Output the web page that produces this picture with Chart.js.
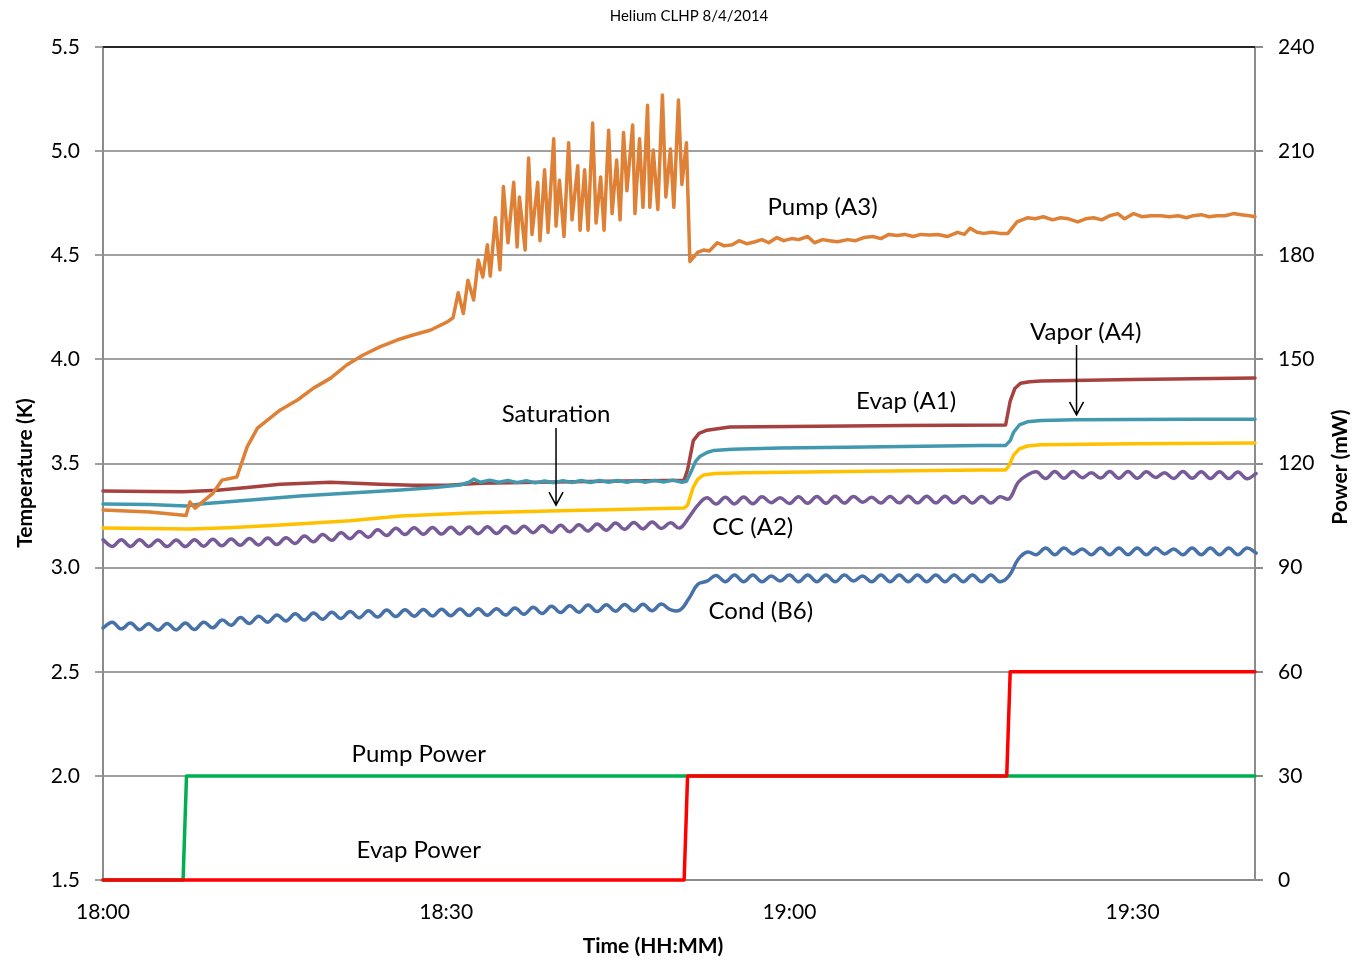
<!DOCTYPE html>
<html>
<head>
<meta charset="utf-8">
<script src="https://cdn.jsdelivr.net/npm/chart.js@4.4.1/dist/chart.umd.min.js"></script>
<style>
  html, body { margin: 0; padding: 0; background: #fff; }
</style>
</head>
<body>
<canvas id="clhp" width="1355" height="960"></canvas>
<script>
// time is minutes after 18:00
const xTicks = [0, 30, 60, 90];
const X_MAX = 100.7;

// Pump (A3), temperature K
const pumpTime = [0, 4.1, 7.26, 7.6, 8.05, 9.62, 10.4, 11.7, 12.6, 13.5, 15.5, 17.0, 18.4, 19.9, 21.3, 22.7, 24.2, 25.7, 27.1, 28.6, 30.1, 30.6,
  31.05, 31.5, 31.9, 32.4, 32.8, 33.2, 33.6, 33.85, 34.3, 34.7, 35.0, 35.4, 35.9, 36.2, 36.4, 36.9, 37.2, 37.5, 38.0, 38.2, 38.6, 38.9,
  39.4, 39.6, 39.9, 40.3, 40.7, 41.0, 41.5, 41.7, 42.1, 42.4, 42.8, 43.1, 43.5, 43.8, 44.2, 44.5, 44.9, 45.2, 45.5, 45.8, 46.3, 46.5,
  46.9, 47.2, 47.6, 47.8, 48.1, 48.5, 48.9, 49.2, 49.6, 49.9, 50.3, 50.6, 51.0, 51.3, 52.0, 52.5, 53.0, 53.7, 54.3, 55.0, 55.6, 56.3,
  57.0, 57.6, 58.2, 58.9, 59.5, 60.2, 60.8, 61.6, 62.2, 62.9, 63.5, 64.2, 65.1, 65.8, 66.5, 67.3, 68.0, 68.7, 69.4, 70.1, 70.8, 71.5,
  72.3, 73.0, 73.8, 74.7, 75.3, 75.8, 76.4, 77.0, 77.7, 78.4, 79.1, 79.9, 80.8, 81.5, 82.2, 83.0, 83.7, 84.4, 85.2, 85.9, 86.6, 87.3,
  88.0, 88.7, 89.3, 90.1, 90.8, 91.6, 92.5, 93.2, 94.0, 94.7, 95.3, 96.0, 96.7, 97.4, 98.1, 98.8, 99.5, 100.2, 100.7];
const pumpTemp = [3.277, 3.267, 3.25, 3.315, 3.286, 3.358, 3.42, 3.435, 3.58, 3.67, 3.757, 3.805, 3.862, 3.91, 3.973, 4.02, 4.06, 4.093, 4.117, 4.14, 4.18, 4.20,
  4.32, 4.22, 4.38, 4.285, 4.477, 4.395, 4.55, 4.40, 4.68, 4.43, 4.83, 4.56, 4.85, 4.54, 4.78, 4.525, 4.967, 4.60, 4.85, 4.57, 4.91, 4.61,
  5.06, 4.64, 4.86, 4.59, 5.04, 4.67, 4.93, 4.62, 4.91, 4.62, 5.135, 4.655, 4.876, 4.62, 5.10, 4.70, 4.957, 4.67, 5.09, 4.81, 5.125, 4.70,
  5.06, 4.73, 5.22, 4.73, 5.005, 4.72, 5.27, 4.78, 5.01, 4.73, 5.245, 4.84, 5.04, 4.47, 4.515, 4.525, 4.52, 4.56, 4.545, 4.55, 4.57, 4.555,
  4.565, 4.575, 4.56, 4.585, 4.57, 4.58, 4.575, 4.59, 4.56, 4.575, 4.57, 4.565, 4.575, 4.57, 4.585, 4.59, 4.58, 4.60, 4.595, 4.60, 4.59, 4.60,
  4.597, 4.60, 4.59, 4.61, 4.60, 4.63, 4.61, 4.605, 4.61, 4.605, 4.605, 4.66, 4.68, 4.675, 4.685, 4.67, 4.68, 4.675, 4.66, 4.675, 4.68, 4.67,
  4.69, 4.70, 4.675, 4.70, 4.685, 4.69, 4.69, 4.685, 4.69, 4.68, 4.69, 4.695, 4.685, 4.69, 4.69, 4.70, 4.695, 4.69, 4.685];

// Evap (A1)
const evapTime = [0, 4, 7, 10, 12.6, 15.5, 19.9, 24.2, 27.1, 30.1, 33, 38, 44, 50.8, 51.1, 51.6, 52.1, 52.8, 54.8, 60, 70, 78.9, 79.3, 79.7, 80.2, 81, 82, 90, 100.7];
const evapTemp = [3.368, 3.366, 3.364, 3.372, 3.385, 3.40, 3.41, 3.40, 3.396, 3.396, 3.405, 3.41, 3.415, 3.42, 3.47, 3.61, 3.645, 3.66, 3.675, 3.678, 3.682, 3.685, 3.80, 3.86, 3.885, 3.893, 3.896, 3.903, 3.91];

// Vapor (A4)
const vaporTime = [0, 4, 7.3, 8.5, 12.9, 17.2, 21.6, 26, 29, 31.2, 32.0, 32.4, 33.0, 33.8, 34.6, 35.4, 36.2, 37.0, 37.8, 38.6, 39.4, 40.2, 41.0,
  41.8, 42.6, 43.4, 44.2, 45.0, 45.8, 46.6, 47.4, 48.2, 49.0, 49.8, 50.6, 51.0, 51.4, 51.8, 52.2, 52.8, 53.4, 55, 59.2, 65, 70, 76.7, 78.9,
  79.3, 79.6, 80.1, 80.8, 82, 85, 90, 95, 100.7];
const vaporTemp = [3.306, 3.303, 3.296, 3.306, 3.325, 3.344, 3.358, 3.373, 3.385, 3.397, 3.41, 3.425, 3.41, 3.42, 3.41, 3.418, 3.408, 3.417, 3.407, 3.416, 3.408, 3.417, 3.409,
  3.418, 3.409, 3.418, 3.41, 3.418, 3.41, 3.419, 3.41, 3.419, 3.411, 3.42, 3.41, 3.415, 3.46, 3.51, 3.535, 3.553, 3.563, 3.568, 3.574, 3.578, 3.582, 3.586, 3.587,
  3.61, 3.65, 3.685, 3.70, 3.706, 3.71, 3.711, 3.712, 3.713];

// Saturation
const satTime = [0, 4, 7.6, 11, 15.5, 21.6, 26, 32, 39, 45, 50.8, 51.1, 51.6, 52.0, 52.5, 53.5, 56, 65, 76.7, 78.9, 79.2, 79.6, 80.1, 80.8, 82, 90, 100.7];
const satTemp = [3.19, 3.188, 3.185, 3.192, 3.205, 3.225, 3.248, 3.262, 3.272, 3.279, 3.286, 3.30, 3.387, 3.425, 3.445, 3.452, 3.456, 3.462, 3.469, 3.469, 3.49, 3.54, 3.57, 3.584, 3.59, 3.595, 3.598];

// CC (A2) and Cond (B6) are logged every 0.8 min
const waveStep = 0.8;
const ccTemp = [
  3.134, 3.102, 3.134, 3.102, 3.134, 3.102, 3.133, 3.101, 3.133, 3.101,
  3.134, 3.103, 3.136, 3.105, 3.138, 3.107, 3.140, 3.109, 3.142, 3.111,
  3.144, 3.116, 3.152, 3.124, 3.159, 3.131, 3.167, 3.139, 3.174, 3.146,
  3.182, 3.154, 3.189, 3.159, 3.192, 3.160, 3.193, 3.161, 3.194, 3.162,
  3.195, 3.163, 3.196, 3.164, 3.197, 3.166, 3.199, 3.168, 3.201, 3.170,
  3.203, 3.172, 3.206, 3.176, 3.210, 3.180, 3.214, 3.184, 3.217, 3.186,
  3.219, 3.188, 3.215, 3.190, 3.240, 3.300, 3.335, 3.305, 3.338, 3.306,
  3.339, 3.307, 3.340, 3.312, 3.336, 3.308, 3.340, 3.309, 3.341, 3.309,
  3.343, 3.310, 3.342, 3.314, 3.338, 3.310, 3.342, 3.311, 3.343, 3.311,
  3.343, 3.311, 3.343, 3.311, 3.342, 3.310, 3.342, 3.310, 3.340, 3.330,
  3.410, 3.445, 3.460, 3.428, 3.461, 3.429, 3.461, 3.432, 3.456, 3.430,
  3.461, 3.429, 3.461, 3.429, 3.460, 3.433, 3.455, 3.428, 3.461, 3.429,
  3.460, 3.428, 3.460, 3.428, 3.459, 3.427, 3.452];
const condTemp = [
  2.710, 2.738, 2.706, 2.734, 2.702, 2.731, 2.700, 2.732, 2.701, 2.734,
  2.703, 2.738, 2.711, 2.749, 2.723, 2.760, 2.732, 2.767, 2.738, 2.773,
  2.744, 2.778, 2.748, 2.782, 2.752, 2.786, 2.756, 2.789, 2.759, 2.793,
  2.763, 2.796, 2.765, 2.798, 2.767, 2.799, 2.768, 2.800, 2.769, 2.801,
  2.770, 2.802, 2.771, 2.803, 2.772, 2.806, 2.776, 2.810, 2.780, 2.814,
  2.784, 2.817, 2.786, 2.820, 2.789, 2.822, 2.791, 2.823, 2.792, 2.824,
  2.793, 2.825, 2.798, 2.795, 2.850, 2.920, 2.935, 2.962, 2.932, 2.964,
  2.932, 2.964, 2.932, 2.960, 2.936, 2.964, 2.932, 2.964, 2.932, 2.964,
  2.932, 2.964, 2.936, 2.960, 2.932, 2.964, 2.932, 2.964, 2.932, 2.964,
  2.932, 2.964, 2.932, 2.964, 2.932, 2.964, 2.932, 2.964, 2.932, 2.960,
  3.040, 3.075, 3.062, 3.094, 3.062, 3.094, 3.066, 3.090, 3.062, 3.094,
  3.062, 3.094, 3.062, 3.094, 3.062, 3.094, 3.066, 3.090, 3.062, 3.094,
  3.062, 3.094, 3.062, 3.094, 3.062, 3.094, 3.070];

// heater powers, mW (right axis)
const pumpPowerTime = [0, 7.0, 7.3, X_MAX];
const pumpPower = [0, 0, 30, 30];
const evapPowerTime = [0, 50.8, 51.1, 79.0, 79.3, X_MAX];
const evapPower = [0, 0, 30, 30, 60, 60];

const FONT = "Lato, 'Open Sans', sans-serif";

const notes = [
  { text: "Pump (A3)", t: 62.9, v: 4.732 },
  { text: "Vapor (A4)", t: 85.9, v: 4.131 },
  { text: "Evap (A1)", t: 70.2, v: 3.800 },
  { text: "Saturation", t: 39.6, v: 3.738 },
  { text: "CC (A2)", t: 56.8, v: 3.195 },
  { text: "Cond (B6)", t: 57.5, v: 2.792 },
  { text: "Pump Power", t: 27.6, v: 2.105 },
  { text: "Evap Power", t: 27.6, v: 1.644 }
];
const arrows = [
  { t: 39.6, from: 3.67, to: 3.30 },
  { t: 85.1, from: 4.069, to: 3.733 }
];

function hhmm(v) {
  const h = 18 + Math.floor(v / 60);
  const m = Math.round(v % 60);
  return h + ":" + String(m).padStart(2, "0");
}

function pts(times, vals) {
  return times.map((t, i) => ({ x: t, y: vals[i] }));
}

const ccTime = ccTemp.map((v, i) => i * waveStep);
const condTime = condTemp.map((v, i) => i * waveStep);

function line(label, data, color, axis, tension) {
  return {
    label: label,
    data: data,
    yAxisID: axis,
    borderColor: color,
    backgroundColor: color,
    borderWidth: 3.5,
    borderJoinStyle: "round",
    borderCapStyle: "round",
    pointRadius: 0,
    tension: tension || 0,
    fill: false,
    clip: 6
  };
}

const overlay = {
  id: "overlay",
  beforeDatasetsDraw(chart) {
    const { ctx, chartArea: a } = chart;
    ctx.save();
    ctx.strokeStyle = "#262626";
    ctx.lineWidth = 2;
    ctx.beginPath();
    ctx.moveTo(a.left, a.top);
    ctx.lineTo(a.right, a.top);
    ctx.stroke();
    ctx.restore();
  },
  afterDatasetsDraw(chart) {
    const { ctx } = chart;
    const xs = chart.scales.x, ys = chart.scales.yT;
    ctx.save();
    ctx.fillStyle = "#000";
    ctx.font = "24px " + FONT;
    ctx.textAlign = "center";
    ctx.textBaseline = "middle";
    notes.forEach(n => ctx.fillText(n.text, xs.getPixelForValue(n.t), ys.getPixelForValue(n.v)));

    ctx.strokeStyle = "#000";
    ctx.lineWidth = 1.5;
    arrows.forEach(a => {
      const x = xs.getPixelForValue(a.t);
      const y0 = ys.getPixelForValue(a.from);
      const y1 = ys.getPixelForValue(a.to);
      ctx.beginPath();
      ctx.moveTo(x, y0);
      ctx.lineTo(x, y1);
      ctx.moveTo(x - 7, y1 - 13);
      ctx.lineTo(x, y1);
      ctx.lineTo(x + 7, y1 - 13);
      ctx.stroke();
    });
    ctx.restore();
  },
  afterDraw(chart) {
    const { ctx } = chart;
    ctx.save();
    ctx.fillStyle = "#000";
    ctx.textAlign = "center";
    ctx.textBaseline = "middle";
    ctx.font = "15px " + FONT;
    ctx.fillText("Helium CLHP 8/4/2014", 689, 16);

    ctx.font = "bold 21px " + FONT;
    ctx.fillText("Time (HH:MM)", 653, 946);

    ctx.translate(25, 473);
    ctx.rotate(-Math.PI / 2);
    ctx.fillText("Temperature (K)", 0, 0);
    ctx.setTransform(1, 0, 0, 1, 0, 0);

    ctx.translate(1340, 467);
    ctx.rotate(-Math.PI / 2);
    ctx.fillText("Power (mW)", 0, 0);
    ctx.restore();
  }
};

const tickFont = { family: FONT, size: 21 };

new Chart(document.getElementById("clhp"), {
  type: "line",
  data: {
    datasets: [
      line("Evap Power", pts(evapPowerTime, evapPower), "#FF0000", "yP"),
      line("Pump Power", pts(pumpPowerTime, pumpPower), "#00B050", "yP"),
      line("Pump (A3)", pts(pumpTime, pumpTemp), "#DE8136", "yT"),
      line("Vapor (A4)", pts(vaporTime, vaporTemp), "#4298AF", "yT"),
      line("Evap (A1)", pts(evapTime, evapTemp), "#A5423F", "yT"),
      line("Saturation", pts(satTime, satTemp), "#FFC000", "yT"),
      line("CC (A2)", pts(ccTime, ccTemp), "#775B99", "yT", 0.4),
      line("Cond (B6)", pts(condTime, condTemp), "#4672A9", "yT", 0.4)
    ]
  },
  options: {
    responsive: false,
    devicePixelRatio: 1,
    animation: false,
    layout: { padding: { top: 47, left: 0, right: 0, bottom: 0 } },
    plugins: {
      legend: { display: false },
      tooltip: { enabled: false },
      title: { display: false }
    },
    scales: {
      x: {
        type: "linear",
        min: 0,
        max: X_MAX,
        afterBuildTicks: s => { s.ticks = xTicks.map(v => ({ value: v })); },
        afterFit: s => { s.height = 80; },
        grid: { drawOnChartArea: false, drawTicks: false },
        border: { color: "#8c8c8c", width: 2 },
        ticks: { padding: 20, color: "#000", font: tickFont, autoSkip: false, maxRotation: 0, callback: v => hhmm(v) }
      },
      yT: {
        position: "left",
        min: 1.5,
        max: 5.5,
        afterFit: s => { s.width = 103; },
        grid: { color: "#a0a0a0", lineWidth: 2, tickLength: 8 },
        border: { color: "#8c8c8c", width: 2 },
        ticks: { stepSize: 0.5, padding: 15, color: "#000", font: tickFont, callback: v => v.toFixed(1) }
      },
      yP: {
        position: "right",
        min: 0,
        max: 240,
        afterFit: s => { s.width = 100; },
        grid: { drawOnChartArea: false, color: "#8c8c8c", lineWidth: 2, tickLength: 8 },
        border: { color: "#8c8c8c", width: 2 },
        ticks: { stepSize: 30, padding: 15, color: "#000", font: tickFont }
      }
    }
  },
  plugins: [overlay]
});
</script>
</body>
</html>
